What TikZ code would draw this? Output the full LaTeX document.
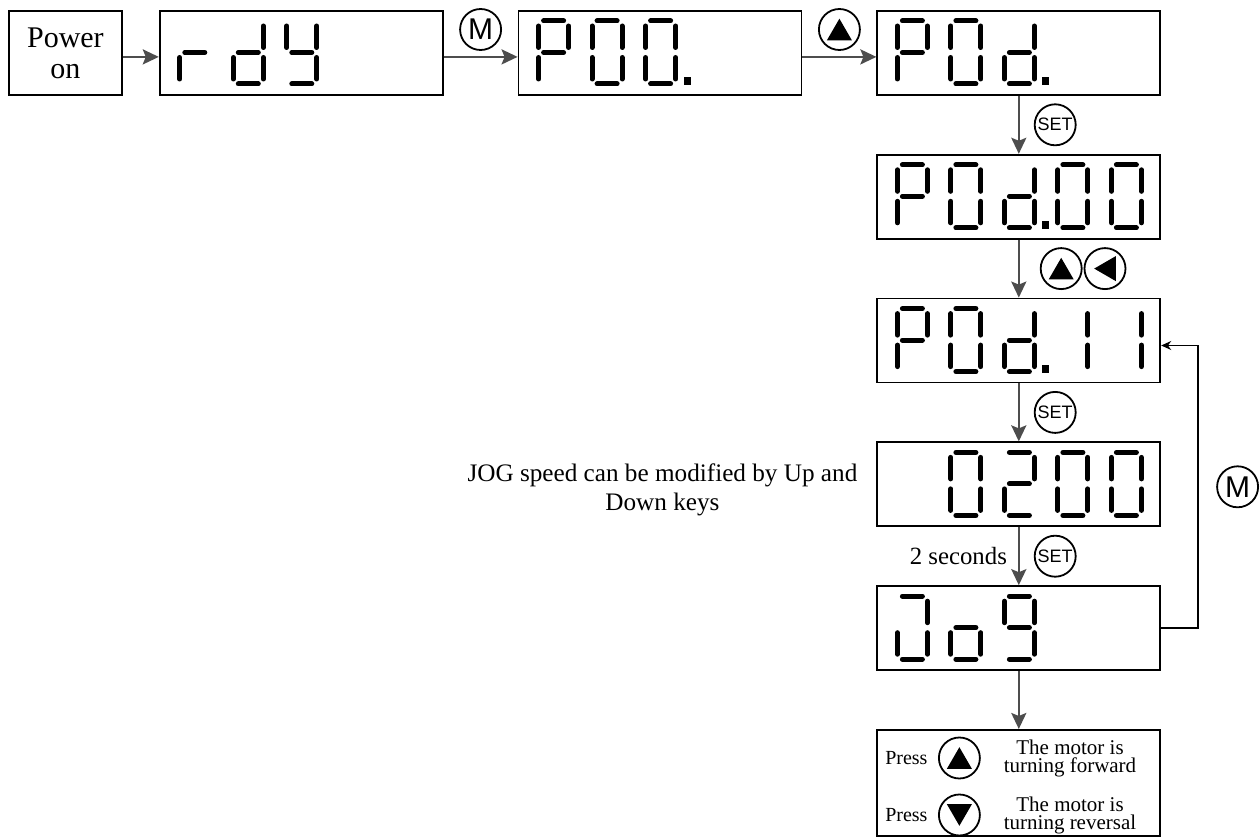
\documentclass[tikz,border=0pt]{standalone}
\usepackage{fontspec}
\setmainfont{Liberation Serif}
\newfontfamily\keyfont{Liberation Sans}
\usetikzlibrary{arrows.meta,positioning,calc}
\definecolor{flowgray}{RGB}{77,77,77}
\tikzset{
  panel/.style={rectangle, draw=black, line width=0.9pt, minimum width=141.5pt,
                minimum height=42pt, inner sep=0pt},
  seg/.style={line width=2.5pt, line cap=round},
  btn/.style={circle, draw=black, line width=0.9pt, minimum size=20.5pt, inner sep=0pt},
  mkey/.style={btn, font=\keyfont\fontsize{15pt}{15pt}\selectfont},
  setkey/.style={btn, font=\keyfont\fontsize{9pt}{9pt}\selectfont},
  flow/.style={-{Stealth[length=8pt, width=7.5pt, inset=1.5pt]}, line width=1.2pt, draw=flowgray},
  loopback/.style={-{Stealth[length=5pt, width=4.5pt]}, line width=0.75pt, draw=black}
}
% triangle inside an arrow key: #1 key node, #2 direction (0 = up)
\newcommand\keytri[2]{\fill[rotate around={#2:(#1.center)}]
  ($(#1.center)+(0,-10.8)$) -- ++(-12.5,21.6) -- ++(25,0) -- cycle;}
% seven segment display: segments and characters
\makeatletter
\def\seg@a{\draw[seg] (5,0) -- (25,0);}
\def\seg@b{\draw[seg] (30,5) -- (30,26.5);}
\def\seg@c{\draw[seg] (30,36.5) -- (30,58);}
\def\seg@d{\draw[seg] (5,63) -- (25,63);}
\def\seg@e{\draw[seg] (0,36.5) -- (0,58);}
\def\seg@f{\draw[seg] (0,5) -- (0,26.5);}
\def\seg@g{\draw[seg] (5,31.5) -- (25,31.5);}
\newcommand\defdigit[2]{\expandafter\def\csname dig@#1\endcsname{#2}}
\defdigit{P}{a,b,e,f,g}
\defdigit{0}{a,b,c,d,e,f}
\defdigit{1}{b,c}
\defdigit{2}{a,b,d,e,g}
\defdigit{9}{a,b,c,d,f,g}
\defdigit{d}{b,c,d,e,g}
\defdigit{r}{e,g}
\defdigit{y}{b,c,d,f,g}
\defdigit{J}{a,b,c,d,e}
\defdigit{o}{c,d,e,g}
\newcommand\readout[3]{%
  \foreach \cell/\ch in {#2}{%
    \begin{scope}[shift={($(#1.north west)+(21+53.5*\cell,11)$)}]
      \edef\segs{\csname dig@\ch\endcsname}%
      \foreach \s in \segs {\csname seg@\s\endcsname}
    \end{scope}}%
  \ifnum#3>-1 \fill ($(#1.north west)+(21+53.5*#3+38,67)$) rectangle ++(7,8.5);\fi}
\makeatother

\begin{document}
\begin{tikzpicture}[x=0.5pt, y=-0.5pt]
\useasboundingbox (0,0) rectangle (1260,840);

% --- top row ---
\node[panel, minimum width=56.5pt, anchor=north west, align=center,
      font=\fontsize{15pt}{15.5pt}\selectfont] (pwr) at (8,10) {Power\\on};
\node[panel, right=18pt of pwr] (rdy) {};
\node[panel, right=37pt of rdy] (p00) {};
\node[panel, right=37pt of p00] (p0d) {};

% --- right column ---
\node[panel, below=29pt of p0d] (p0d00) {};
\node[panel, below=29pt of p0d00] (p0d11) {};
\node[panel, below=29pt of p0d11] (v0200) {};
\node[panel, below=29pt of v0200] (jog) {};
\node[panel, below=29pt of jog, minimum height=53pt] (result) {};

% --- displays ---
\readout{rdy}{0/r,1/d,2/y}{-1}
\readout{p00}{0/P,1/0,2/0}{2}
\readout{p0d}{0/P,1/0,2/d}{2}
\readout{p0d00}{0/P,1/0,2/d,3/0,4/0}{2}
\readout{p0d11}{0/P,1/0,2/d,3/1,4/1}{2}
\readout{v0200}{1/0,2/2,3/0,4/0}{-1}
\readout{jog}{0/J,1/o,2/9}{-1}

% --- arrows ---
\draw[flow] ([yshift=-2pt]pwr.east) -- ([yshift=-2pt]rdy.west);
\draw[flow] ([yshift=-2pt]rdy.east) -- node[mkey, above=3pt] (mk1) {M} ([yshift=-2pt]p00.west);
\draw[flow] ([yshift=-2pt]p00.east) -- node[btn, above=3pt] (upk1) {} ([yshift=-2pt]p0d.west);

\draw[flow] (p0d) -- node[setkey, right=7.5pt] (set1) {SET} (p0d00);
\draw[flow] (p0d00) -- node[btn, right=10.5pt] (upk2) {} (p0d11);
\node[btn, right=0.5pt of upk2] (leftk) {};
\draw[flow] (p0d11) -- node[setkey, right=7.5pt] (set2) {SET} (v0200);
\draw[flow] (v0200) -- node[setkey, right=7.5pt] (set3) {SET}
  node[left=2pt, font=\fontsize{12.4pt}{14pt}\selectfont] (hold) {2 seconds} (jog);
\draw[flow] (jog) -- (result);

\draw[loopback] (jog.east) -- ++(37,0) |- node[mkey, pos=0.25, right=9pt] (mk2) {M}
  ([yshift=-2.5pt]p0d11.east);

% --- notes ---
\node[left=6pt of v0200, yshift=-3pt, align=center,
      font=\fontsize{12.6pt}{14.5pt}\selectfont] (hint)
  {JOG speed can be modified by Up and\\Down keys};

\node[font=\fontsize{10pt}{10pt}\selectfont] (press1) at ($(result.north west)+(30,29)$) {Press};
\node[btn, right=1.7pt of press1] (fwdk) {};
\node[right=8pt of fwdk, align=center, font=\fontsize{10.5pt}{9pt}\selectfont] (fwdtxt)
  {The motor is\\turning forward};
\node[font=\fontsize{10pt}{10pt}\selectfont] (press2) at ($(result.north west)+(30,86)$) {Press};
\node[btn, right=1.7pt of press2] (revk) {};
\node[right=8pt of revk, align=center, font=\fontsize{10.5pt}{9pt}\selectfont] (revtxt)
  {The motor is\\turning reversal};

% --- key symbols ---
\keytri{upk1}{0}
\keytri{upk2}{0}
\keytri{leftk}{90}
\keytri{fwdk}{0}
\keytri{revk}{180}

\end{tikzpicture}
\end{document}
